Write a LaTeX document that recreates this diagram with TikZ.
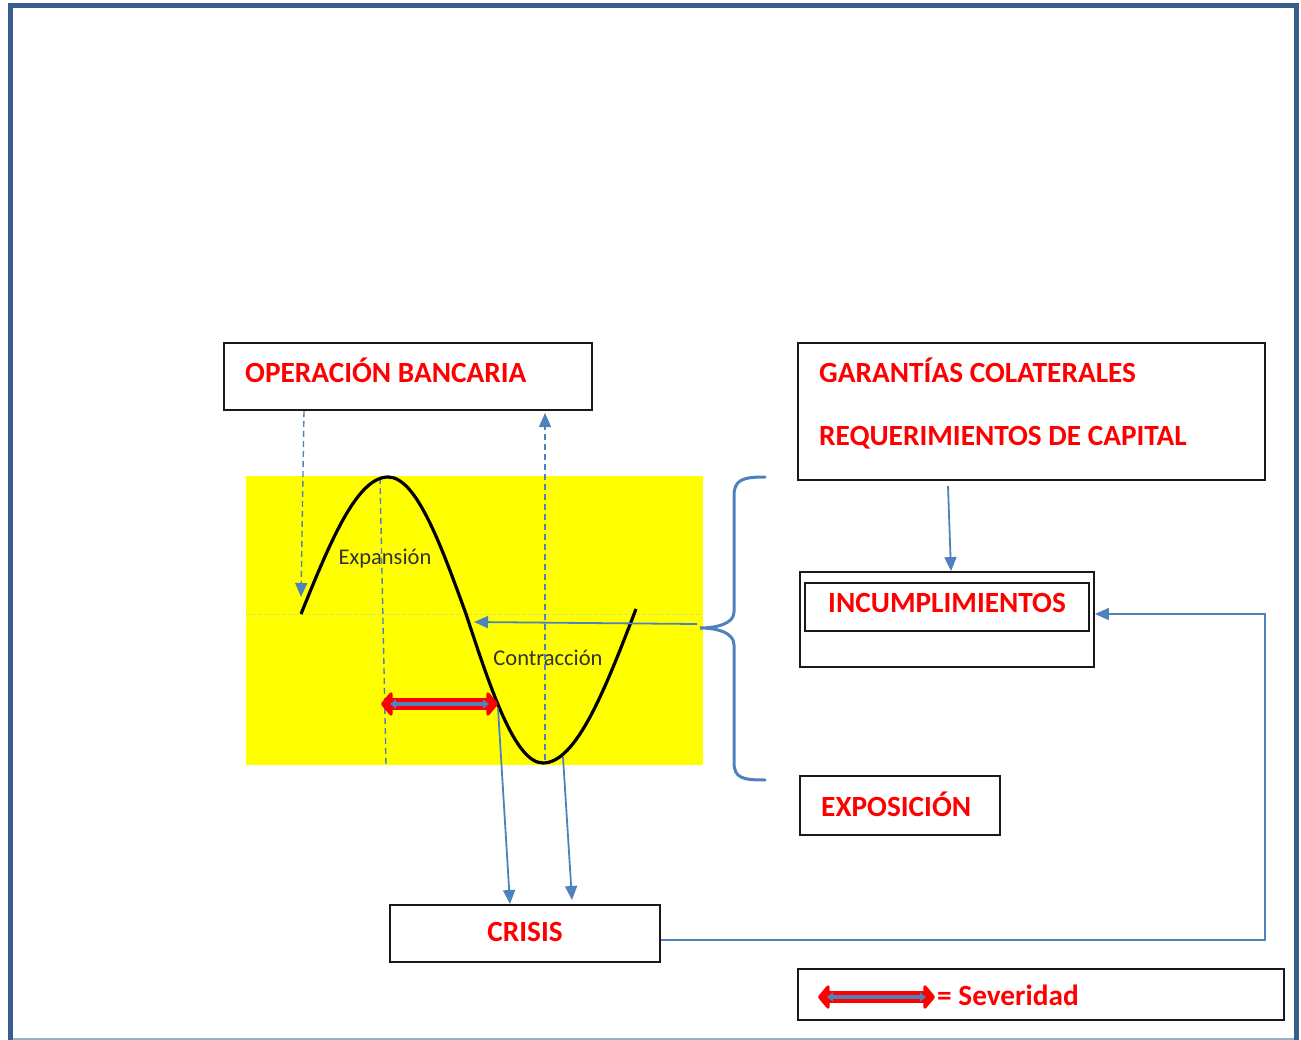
\documentclass[tikz,border=0pt]{standalone}
\usepackage{fontspec}
\setmainfont{Carlito}
\usetikzlibrary{arrows.meta}
\definecolor{frameblue}{RGB}{56,93,138}
\definecolor{linkblue}{RGB}{79,129,189}
\definecolor{labelred}{RGB}{255,0,0}
\definecolor{midline}{RGB}{214,222,120}
\definecolor{panelyellow}{RGB}{255,255,0}
\tikzset{
  box/.style={draw=black!90, line width=1.8pt, inner sep=0pt, fill=white},
  title/.style={font=\bfseries\fontsize{29.3}{34}\selectfont, text=labelred, inner sep=0pt},
  phase/.style={font=\fontsize{22.5}{26}\selectfont, text=black!80, inner sep=0pt},
  link/.style={draw=linkblue, line width=1.8pt, -{Triangle[length=14pt,width=12pt]}},
  guide/.style={draw=linkblue, line width=1.4pt, dash pattern=on 6pt off 4pt},
  sevred/.style={draw=red, line width=12pt, line join=round, {Triangle[length=12pt,width=28pt,round]}-{Triangle[length=12pt,width=28pt,round]}},
  sevblue/.style={draw=linkblue, line width=4.5pt, {Triangle[length=6pt,width=9pt]}-{Triangle[length=6pt,width=9pt]}},
}
\begin{document}
\begin{tikzpicture}[x=1pt,y=-1pt]
\useasboundingbox (0,0) rectangle (1301,1040);
% page frame
\draw[frameblue!50, line width=1.2pt] (10,1039) -- (1296,1039);
\draw[frameblue, line width=5pt] (10,1040) -- (10,6) -- (1296,6) -- (1296,1040);

% business cycle panel
\fill[panelyellow] (246,476) rectangle (703,765);
\draw[midline, line width=0.8pt, dash pattern=on 4pt off 2pt] (246,614) -- (703,614);
\draw[guide] (380,478) -- (386,765);
\node[phase] (expl) at (385,559) {Expansión};
\node[phase] (conl) at (548,658) {Contracción};
\draw[black, line width=3.2pt] (301,614) sin (388,477) cos (466,614) sin (543,763) cos (636,609);

% boxes
\node[box, minimum width=368pt, minimum height=67pt] (ob) at (408,376.5) {};
\node[title, anchor=west] (obt) at (245,370) {OPERACIÓN BANCARIA};
\node[box, minimum width=467pt, minimum height=137pt] (gar) at (1031.5,411.5) {};
\node[title, anchor=west] (gart) at (819,370) {GARANTÍAS COLATERALES};
\node[title, anchor=west] (reqt) at (819,438) {REQUERIMIENTOS DE CAPITAL};
\node[box, minimum width=294pt, minimum height=95pt] (inc) at (947,619.5) {};
\node[box, minimum width=284pt, minimum height=48pt] (inci) at (947,607) {};
\node[title] (inct) at (947,603) {INCUMPLIMIENTOS};
\node[box, minimum width=200pt, minimum height=59pt] (expo) at (900,805.5) {};
\node[title, anchor=west] (expot) at (821,804) {EXPOSICIÓN};
\node[box, minimum width=270pt, minimum height=57pt] (cri) at (525,933.5) {};
\node[title] (crit) at (525,932) {CRISIS};
\node[box, minimum width=486pt, minimum height=51pt] (sev) at (1041,994.5) {};
\node[title, anchor=west] (sevt) at (937,995) {= Severidad};

% connector end points
\coordinate (obA) at (304,411);
\coordinate (curveA) at (301,597);
\coordinate (troughA) at (545,760);
\coordinate (obB) at (545,413);
\coordinate (braceTip) at (697,624);
\coordinate (curveMid) at (474,622);
\coordinate (garA) at (948,486);
\coordinate (curveC) at (498,708);
\coordinate (curveD) at (563,757);
\coordinate (crisA) at (510,904);
\coordinate (crisB) at (572,900);
\coordinate (turnA) at (1265,940);
\coordinate (turnB) at (1265,614);
\coordinate (sevL) at (381,704);
\coordinate (sevR) at (498,704);
\coordinate (legL) at (818,997);
\coordinate (legR) at (935,997);

% dashed links to the banking operation box
\draw[guide, -{Triangle[length=14pt,width=12pt]}] (obA) -- (curveA);
\draw[guide, -{Triangle[length=14pt,width=12pt]}] (troughA) -- (obB);

% brace grouping the three risk boxes
\draw[linkblue, line width=3pt, line cap=round]
  (765,477) .. controls (742,477) and (734,480) .. (734,496) -- (734,612)
  .. controls (734,624) and (716,628) .. (700,628)
  .. controls (716,628) and (734,632) .. (734,645) -- (734,762)
  .. controls (734,778) and (742,780) .. (765,780);
\draw[link] (braceTip) -- (curveMid);

% links between boxes
\draw[link] (garA) -- (inc.north -| 951,0);
\draw[link] (curveC) -- (crisA);
\draw[link] (curveD) -- (crisB);
\draw[link] (cri.east |- turnA) -- (turnA) -- (turnB) -- (inc.east |- turnB);

% severity arrows
\draw[sevred] (sevL) -- (sevR);
\draw[sevblue] ([xshift=9pt]sevL) -- ([xshift=-9pt]sevR);
\draw[sevred] (legL) -- (legR);
\draw[sevblue] ([xshift=9pt]legL) -- ([xshift=-9pt]legR);
\end{tikzpicture}
\end{document}
